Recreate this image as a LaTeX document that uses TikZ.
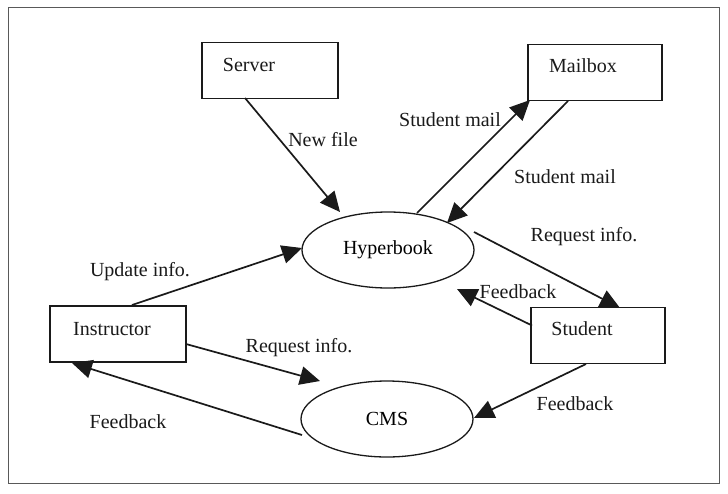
\documentclass[tikz,border=0pt]{standalone}
\usepackage{fontspec}
\setmainfont{Liberation Serif}
\usetikzlibrary{arrows.meta,calc,shapes.geometric}
\definecolor{ink}{HTML}{1A1A1A}
\tikzset{
  box/.style={draw=ink,line width=1.2pt,rectangle,minimum width=#1,minimum height=56pt,inner sep=0pt},
  oval/.style={draw=ink,line width=1.3pt,ellipse,minimum width=172pt,minimum height=76pt,inner sep=0pt,font=\fontsize{20}{22}\selectfont},
  flow/.style={draw=ink,line width=1.7pt,-{Triangle[length=20pt,width=18.5pt]}},
  lbl/.style={font=\fontsize{20}{22}\selectfont,text=ink,inner sep=0pt},
  boxtext/.style={font=\fontsize{20}{22}\selectfont,text=ink}
}
\begin{document}
\begin{tikzpicture}[x=1pt,y=-1pt]
  \useasboundingbox (0,0) rectangle (728,493);
  \fill[white] (0,0) rectangle (728,493);
  \draw[gray!70!black,line width=1pt] (8,7) rectangle (719,483);

  % processes and external entities
  \node[box=136pt,label={[boxtext,xshift=-21pt,yshift=5.5pt]center:Server}] (server) at (270,70.5) {};
  \node[box=134pt,label={[boxtext,xshift=-12pt,yshift=6.5pt]center:Mailbox}] (mailbox) at (595,72.5) {};
  \node[box=134pt,label={[boxtext,xshift=-16pt,yshift=6.5pt]center:Student}] (student) at (598,335.5) {};
  \node[box=136pt,label={[boxtext,xshift=-6pt,yshift=5pt]center:Instructor}] (instructor) at (118,334) {};
  \node[oval] (hyper) at (388,250) {Hyperbook};
  \node[oval] (cms) at (387,419) {CMS};

  % data flows
  \draw[flow] ($(server.center)+(-25,27.5)$) -- ($(hyper.center)+(-48,-38)$);
  \draw[flow] ($(hyper.center)+(29,-37)$) -- ($(mailbox.center)+(-65,27.5)$);
  \draw[flow] ($(mailbox.center)+(-27,28.5)$) -- ($(hyper.center)+(59,-27)$);
  \draw[flow] ($(hyper.center)+(86,-18)$) -- ($(student.center)+(22,-27.5)$);
  \draw[flow] ($(student.center)+(-66,-10)$) -- ($(hyper.center)+(69,39)$);
  \draw[flow] ($(instructor.center)+(14,-29)$) -- ($(hyper.center)+(-86,-2)$);
  \draw[flow] ($(instructor.center)+(68,10)$) -- ($(cms.center)+(-67,-38)$);
  \draw[flow] ($(cms.center)+(-85,16)$) -- ($(instructor.center)+(-46,29)$);
  \draw[flow] ($(student.center)+(-12,28.5)$) -- ($(cms.center)+(87,-1)$);

  % flow labels
  \node[lbl] (lnew) at (323,140) {New file};
  \node[lbl] (lmailup) at (450,120) {Student mail};
  \node[lbl] (lmaildown) at (565,177) {Student mail};
  \node[lbl] (lreqs) at (584,237) {Request info.};
  \node[lbl] (lfbh) at (518,292) {Feedback};
  \node[lbl] (lupd) at (140,272) {Update info.};
  \node[lbl] (lreqc) at (299,348) {Request info.};
  \node[lbl] (lfbi) at (128,422) {Feedback};
  \node[lbl] (lfbc) at (575,404) {Feedback};
\end{tikzpicture}
\end{document}
